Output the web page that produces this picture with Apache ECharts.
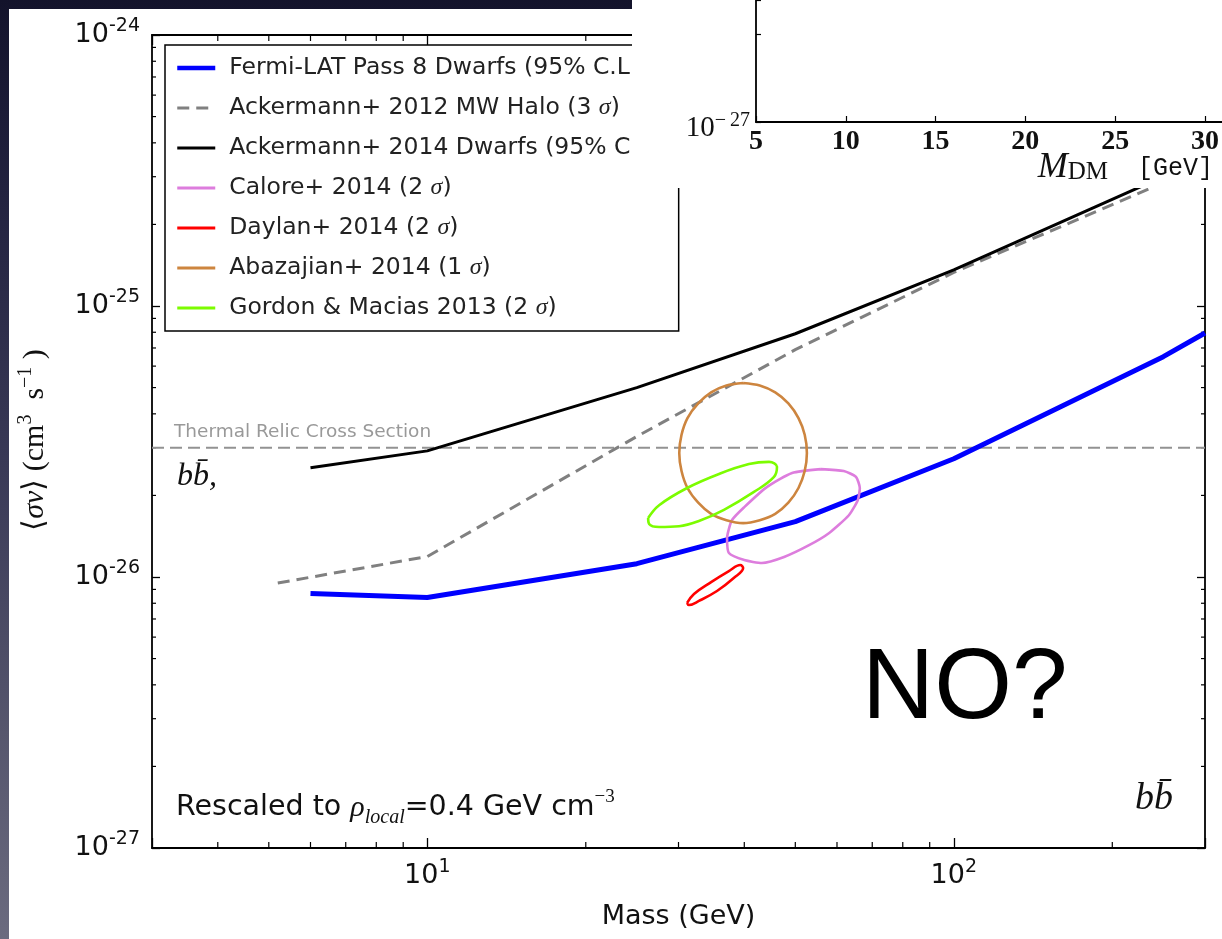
<!DOCTYPE html>
<html>
<head>
<meta charset="utf-8">
<script src="https://cdn.jsdelivr.net/npm/echarts@6.0.0/dist/echarts.min.js"></script>
<style>
  html, body { margin: 0; padding: 0; }
  body {
    width: 1222px; height: 939px; overflow: hidden; position: relative;
    background: linear-gradient(to bottom, #13132b 0%, #22223f 20%, #3a3a57 50%, #56566d 78%, #6b6b7f 100%);
  }
  #panel { position: absolute; left: 9px; top: 9px; right: 0; bottom: 0; background: #fff; }
  #chart { position: absolute; left: 0; top: 0; width: 1222px; height: 939px; }
</style>
</head>
<body>
<div id="panel"></div>
<div id="chart"></div>
<script>
// <σv> values are stored in units of 1e-26 cm^3 s^-1 (labels add the -26 back)
const UNIT_EXP = -26;
const X_MIN = 3, X_MAX = 300;
const Y_MIN = 0.1, Y_MAX = 100;

// limits
const fermiMass = [6, 10, 25, 50, 100, 250, 300];
const fermiSigmaV = [0.87, 0.84, 1.12, 1.6, 2.73, 6.5, 7.95];

const halo2012Mass = [5.2, 10, 25, 50, 100, 250];
const halo2012SigmaV = [0.95, 1.19, 3.3, 6.9, 13.3, 28.5];

const dwarfs2014Mass = [6, 10, 25, 50, 100, 250];
const dwarfs2014SigmaV = [2.53, 2.92, 5.0, 7.9, 13.6, 30.0];

const thermalMass = [3, 300];
const thermalSigmaV = [3, 3];

// GeV excess contours (closed loops)
const caloreMass = [55.9, 61.8, 65.2, 66.3, 65.7, 63.2, 57.9, 53.1, 47.6, 43.2, 40.0, 37.4, 37.1, 37.9, 40.0, 44.2, 49.3, 55.9];
const caloreSigmaV = [2.5, 2.46, 2.34, 2.13, 1.92, 1.69, 1.45, 1.31, 1.185, 1.126, 1.155, 1.226, 1.39, 1.62, 1.81, 2.15, 2.42, 2.5];

const daylanMass = [31.15, 32.1, 34.6, 37.4, 39.3, 39.8, 38.2, 35.5, 32.8, 31.4, 31.15];
const daylanSigmaV = [0.802, 0.866, 0.958, 1.052, 1.107, 1.079, 0.992, 0.888, 0.816, 0.788, 0.802];

const abazajianMass = [39.8, 42.8, 45.8, 48.5, 50.7, 52.1, 52.6, 52.1, 50.7, 48.5, 45.8, 42.8, 39.8,
  37.0, 34.6, 32.7, 31.2, 30.4, 30.1, 30.4, 31.2, 32.7, 34.6, 37.0, 39.8];
const abazajianSigmaV = [5.2, 5.09, 4.8, 4.37, 3.86, 3.35, 2.87, 2.46, 2.13, 1.88, 1.71, 1.62, 1.58,
  1.62, 1.71, 1.88, 2.13, 2.46, 2.87, 3.35, 3.86, 4.37, 4.8, 5.09, 5.2];

const gordonMass = [26.27, 27.56, 31.15, 35.82, 40.83, 44.57, 46.15, 45.55, 41.73, 36.6, 32.8, 30.08, 27.56, 26.38, 26.27];
const gordonSigmaV = [1.65, 1.84, 2.13, 2.4, 2.61, 2.66, 2.55, 2.34, 2.06, 1.77, 1.61, 1.54, 1.53, 1.57, 1.65];

// minor ticks of the main frame
const xMinorTicks = [4, 5, 6, 7, 8, 9, 20, 30, 40, 50, 60, 70, 80, 90, 200];
const yMinorTicks = [0.2, 0.3, 0.4, 0.5, 0.6, 0.7, 0.8, 0.9,
  2, 3, 4, 5, 6, 7, 8, 9,
  20, 30, 40, 50, 60, 70, 80, 90];

// inset fragment (M_DM axis)
const insetMassMin = 5, insetMassMax = 30.95, insetMassStep = 5;
const insetSigmaMin = 0.1, insetSigmaMax = 2.45;

const legendNames = [
  'Fermi-LAT Pass 8 Dwarfs (95% C.L.)',
  'Ackermann+ 2012 MW Halo (3 σ)',
  'Ackermann+ 2014 Dwarfs (95% C.L.)',
  'Calore+ 2014 (2 σ)',
  'Daylan+ 2014 (2 σ)',
  'Abazajian+ 2014 (1 σ)',
  'Gordon & Macias 2013 (2 σ)'
];

function pairs(xs, ys) {
  return xs.map(function (x, i) { return [x, ys[i]]; });
}

function expOf(v) {
  const lg = Math.log10(v);
  const e = Math.round(lg);
  return Math.abs(lg - e) > 1e-6 ? null : e;
}
function xLabel(v) {
  const e = expOf(v);
  return e === null ? '' : '{b|10}{s|' + e + '}';
}
function yLabel(v) {
  const e = expOf(v);
  return e === null ? '' : '{b|10}{s|' + (e + UNIT_EXP) + '}';
}

const tickRich = {
  b: { fontFamily: 'DejaVu Sans', fontSize: 27, lineHeight: 36, color: '#111' },
  s: { fontFamily: 'DejaVu Sans', fontSize: 19, lineHeight: 20, verticalAlign: 'top', color: '#111' }
};
const spine = { show: true, lineStyle: { color: '#000', width: 1.8 } };
const majorTick = { show: true, inside: true, lineStyle: { color: '#000', width: 1.3 } };

function limitLine(name, xs, ys, color, width, dash) {
  return {
    type: 'line', name: name, data: pairs(xs, ys),
    symbol: 'none', showSymbol: false, smooth: false, silent: true,
    lineStyle: { color: color, width: width, type: dash || 'solid' },
    itemStyle: { color: color },
    emphasis: { disabled: true }
  };
}
function contour(name, xs, ys, color, smooth) {
  return {
    type: 'line', name: name, data: pairs(xs, ys),
    symbol: 'none', showSymbol: false, smooth: smooth, silent: true,
    lineStyle: { color: color, width: 2.6 },
    itemStyle: { color: color },
    emphasis: { disabled: true }
  };
}

const tickStyle = { stroke: '#000', lineWidth: 1.2 };

const chart = echarts.init(document.getElementById('chart'));

const option = {
  animation: false,
  backgroundColor: 'transparent',
  grid: [
    { left: 152, top: 35, right: 17, bottom: 91, outerBoundsMode: 'none' },
    { left: 756, top: 0, right: 0, height: 122, outerBoundsMode: 'none' }
  ],
  legend: {
    orient: 'vertical', left: 165, top: 45,
    padding: [10, 11, 10, 10],
    itemWidth: 38, itemHeight: 14, itemGap: 14,
    backgroundColor: '#fff', borderColor: '#000', borderWidth: 1.5, borderRadius: 0,
    selectedMode: false,
    itemStyle: { opacity: 0 },
    lineStyle: { width: 3 },
    data: legendNames.map(function (n, i) {
      return { name: n, lineStyle: { width: i === 0 ? 4.5 : 3 } };
    }),
    formatter: function (name) { return '{p| }' + name.replace('σ', '{s|σ}'); },
    textStyle: {
      fontFamily: 'DejaVu Sans', fontSize: 23.5, lineHeight: 26, color: '#222',
      rich: {
        p: { width: 9, fontSize: 23.5, lineHeight: 26 },
        s: { fontFamily: 'Liberation Serif', fontStyle: 'italic', fontSize: 24, lineHeight: 26, color: '#222' }
      }
    }
  },
  xAxis: [
    {
      type: 'log', logBase: 10, gridIndex: 0, min: X_MIN, max: X_MAX, position: 'bottom',
      name: 'Mass (GeV)', nameLocation: 'middle', nameGap: 55,
      nameTextStyle: { fontFamily: 'DejaVu Sans', fontSize: 27, color: '#111' },
      axisLine: spine,
      axisTick: Object.assign({ length: 10 }, majorTick),
      axisLabel: { show: true, margin: 10, formatter: xLabel, rich: tickRich },
      splitLine: { show: false }
    },
    {
      type: 'log', logBase: 10, gridIndex: 0, min: X_MIN, max: X_MAX, position: 'top',
      axisLine: spine,
      axisTick: Object.assign({ length: 10 }, majorTick),
      axisLabel: { show: false }, splitLine: { show: false }
    },
    {
      type: 'value', gridIndex: 1, min: insetMassMin, max: insetMassMax, interval: insetMassStep, z: 110,
      axisLine: { show: true, onZero: false, lineStyle: { color: '#000', width: 1.8 } },
      axisTick: { show: true, inside: true, length: 6, lineStyle: { color: '#000', width: 1.2 } },
      axisLabel: {
        show: true, margin: 6, showMaxLabel: false,
        fontFamily: 'Liberation Serif', fontWeight: 'bold', fontSize: 28, color: '#111'
      },
      splitLine: { show: false }
    }
  ],
  yAxis: [
    {
      type: 'log', logBase: 10, gridIndex: 0, min: Y_MIN, max: Y_MAX, position: 'left',
      axisLine: spine,
      axisTick: Object.assign({ length: 8 }, majorTick),
      axisLabel: { show: true, margin: 12, formatter: yLabel, rich: tickRich },
      splitLine: { show: false }
    },
    {
      type: 'log', logBase: 10, gridIndex: 0, min: Y_MIN, max: Y_MAX, position: 'right',
      axisLine: spine,
      axisTick: Object.assign({ length: 8 }, majorTick),
      axisLabel: { show: false }, splitLine: { show: false }
    },
    {
      type: 'log', logBase: 10, gridIndex: 1, min: insetSigmaMin, max: insetSigmaMax, z: 110,
      axisLine: { show: true, onZero: false, lineStyle: { color: '#000', width: 1.8 } },
      axisTick: { show: true, inside: true, length: 5, lineStyle: { color: '#000', width: 1.2 } },
      axisLabel: {
        show: true, margin: 6, padding: [12, 0, 0, 0],
        formatter: function (v) {
          return Math.abs(v - insetSigmaMin) < 1e-9 ? '{b|10}{s|\u2212\u200927}' : '';
        },
        rich: {
          b: { fontFamily: 'Liberation Serif', fontSize: 29, lineHeight: 34, color: '#111' },
          s: { fontFamily: 'Liberation Serif', fontSize: 20, lineHeight: 20, verticalAlign: 'top', color: '#111' }
        }
      },
      splitLine: { show: false }
    }
  ],
  series: [
    limitLine('thermal', thermalMass, thermalSigmaV, '#929292', 2, [12, 6]),
    limitLine(legendNames[0], fermiMass, fermiSigmaV, '#0000ff', 5),
    limitLine(legendNames[1], halo2012Mass, halo2012SigmaV, '#808080', 3, [12, 7]),
    limitLine(legendNames[2], dwarfs2014Mass, dwarfs2014SigmaV, '#000000', 3),
    contour(legendNames[3], caloreMass, caloreSigmaV, '#dd7ddd', 0.2),
    contour(legendNames[4], daylanMass, daylanSigmaV, '#ff0000', 0.4),
    contour(legendNames[5], abazajianMass, abazajianSigmaV, '#cd853f', 0.3),
    contour(legendNames[6], gordonMass, gordonSigmaV, '#7cfc00', 0.4),
    {
      type: 'custom', name: 'xMinor', silent: true, z: 3, clip: false,
      data: xMinorTicks.map(function (v) { return [v, Y_MIN]; }),
      encode: { x: 0, y: 1 },
      renderItem: function (params, api) {
        const b = api.coord([api.value(0), Y_MIN]);
        const t = api.coord([api.value(0), Y_MAX]);
        return {
          type: 'group', children: [
            { type: 'line', shape: { x1: b[0], y1: b[1], x2: b[0], y2: b[1] - 6 }, style: tickStyle },
            { type: 'line', shape: { x1: t[0], y1: t[1], x2: t[0], y2: t[1] + 6 }, style: tickStyle }
          ]
        };
      }
    },
    {
      type: 'custom', name: 'yMinor', silent: true, z: 3, clip: false,
      data: yMinorTicks.map(function (v) { return [X_MIN, v]; }),
      encode: { x: 0, y: 1 },
      renderItem: function (params, api) {
        const l = api.coord([X_MIN, api.value(1)]);
        const r = api.coord([X_MAX, api.value(1)]);
        return {
          type: 'group', children: [
            { type: 'line', shape: { x1: l[0], y1: l[1], x2: l[0] + 4, y2: l[1] }, style: tickStyle },
            { type: 'line', shape: { x1: r[0], y1: r[1], x2: r[0] - 4, y2: r[1] }, style: tickStyle }
          ]
        };
      }
    }
  ],
  graphic: [
    { type: 'rect', z: 100, shape: { x: 632, y: 0, width: 590, height: 188 }, style: { fill: '#fff' } },
    {
      type: 'text', z: 110, x: 1213, y: 168,
      style: {
        text: '{m|M}{d|DM}{g|  [GeV]}', align: 'right', verticalAlign: 'middle',
        rich: {
          m: { fontFamily: 'Liberation Serif', fontStyle: 'italic', fontSize: 36, lineHeight: 34, fill: '#111' },
          d: { fontFamily: 'Liberation Serif', fontSize: 25, lineHeight: 20, verticalAlign: 'bottom', fill: '#111' },
          g: { fontFamily: 'Liberation Mono', fontSize: 25, lineHeight: 34, fill: '#111' }
        }
      }
    },
    {
      type: 'text', z: 10, x: 174, y: 432,
      style: { text: 'Thermal Relic Cross Section', fontFamily: 'DejaVu Sans', fontSize: 18.5, fill: '#999', verticalAlign: 'middle' }
    },
    {
      type: 'text', z: 10, x: 177, y: 477,
      style: { text: 'bb\u0304,', fontFamily: 'Liberation Serif', fontStyle: 'italic', fontSize: 32, fill: '#111', verticalAlign: 'middle' }
    },
    {
      type: 'text', z: 10, x: 1135, y: 799,
      style: { text: 'bb\u0304', fontFamily: 'Liberation Serif', fontStyle: 'italic', fontSize: 38, fill: '#111', verticalAlign: 'middle' }
    },
    {
      type: 'text', z: 10, x: 862, y: 690,
      style: { text: 'NO?', fontFamily: 'Liberation Sans', fontSize: 100, fill: '#000', verticalAlign: 'middle' }
    },
    {
      type: 'text', z: 10, x: 176, y: 808,
      style: {
        text: '{n|Rescaled to }{r|ρ}{l|local}{n|=0.4 GeV cm}{u|−3}', verticalAlign: 'middle',
        rich: {
          n: { fontFamily: 'DejaVu Sans', fontSize: 28.5, lineHeight: 40, fill: '#111' },
          r: { fontFamily: 'Liberation Serif', fontStyle: 'italic', fontSize: 30, lineHeight: 40, fill: '#111' },
          l: { fontFamily: 'Liberation Serif', fontStyle: 'italic', fontSize: 20, lineHeight: 24, verticalAlign: 'bottom', fill: '#111' },
          u: { fontFamily: 'Liberation Serif', fontSize: 19, lineHeight: 22, verticalAlign: 'top', fill: '#111' }
        }
      }
    },
    {
      type: 'text', z: 10, x: 35, y: 440, rotation: Math.PI / 2,
      style: {
        text: '{a|⟨}{i|σv}{a|⟩ (cm}{u|3}{a|  s}{u|−1}{a| )}', align: 'center', verticalAlign: 'middle',
        rich: {
          a: { fontFamily: 'Liberation Serif', fontSize: 30, lineHeight: 38, fill: '#111' },
          i: { fontFamily: 'Liberation Serif', fontStyle: 'italic', fontSize: 30, lineHeight: 38, fill: '#111' },
          u: { fontFamily: 'Liberation Serif', fontSize: 20, lineHeight: 20, verticalAlign: 'top', fill: '#111' }
        }
      }
    }
  ]
};

chart.setOption(option);
</script>
</body>
</html>
